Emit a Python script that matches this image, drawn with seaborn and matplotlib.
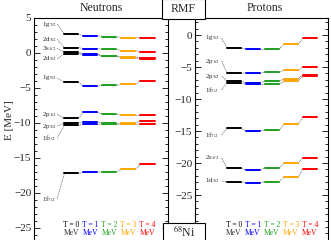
import numpy as np
import pandas as pd
import seaborn as sns
import matplotlib.pyplot as plt
from matplotlib.patches import Rectangle
from matplotlib.ticker import MultipleLocator, FixedLocator

# temperatures and their colours
T_VALUES = [0, 1, 2, 3, 4]
T_COLORS = ["black", "#0000ff", "#1fa01f", "#ffa500", "#ff0000"]

# neutron single-particle energies [MeV], one value per temperature
n_1g72 = [2.67, 2.48, 2.33, 2.19, 2.20]
n_2d32 = [0.76, 0.62, 0.52, 0.33, 0.19]
n_3s12 = [0.12, -0.15, -0.38, -0.58, -0.72]
n_2d52 = [-0.08, -0.25, -0.48, -0.68, -0.82]
n_1g92 = [-4.19, -4.71, -4.62, -4.48, -3.95]
n_2p12 = [-9.33, -8.50, -8.71, -8.86, -8.86]
n_2p32 = [-10.00, -9.80, -10.05, -10.05, -9.65]
n_1f52 = [-10.35, -10.15, -10.20, -10.20, -10.15]
n_1f72 = [-17.19, -17.05, -16.95, -16.62, -15.90]

# proton single-particle energies [MeV]
p_1g92 = [-1.98, -2.19, -2.19, -1.46, -0.52]
p_2p12 = [-5.89, -5.99, -5.83, -5.52, -4.95]
p_2p32 = [-7.19, -7.45, -7.19, -6.88, -6.20]
p_1f52 = [-7.45, -7.71, -7.71, -7.24, -6.45]
p_1f72 = [-14.60, -14.95, -14.84, -13.96, -12.76]
p_2s12 = [-20.80, -21.10, -20.73, -20.05, -19.17]
p_1d32 = [-22.90, -23.07, -22.90, -22.24, -20.94]

n_names = ["1g$_{7/2}$", "2d$_{3/2}$", "3s$_{1/2}$", "2d$_{5/2}$", "1g$_{9/2}$",
           "2p$_{1/2}$", "2p$_{3/2}$", "1f$_{5/2}$", "1f$_{7/2}$"]
n_levels = [n_1g72, n_2d32, n_3s12, n_2d52, n_1g92, n_2p12, n_2p32, n_1f52, n_1f72]
n_label_y = [4.14, 1.95, 0.65, -0.80, -3.57, -8.75, -10.45, -12.1, -20.8]

p_names = ["1g$_{9/2}$", "2p$_{1/2}$", "2p$_{3/2}$", "1f$_{5/2}$",
           "1f$_{7/2}$", "2s$_{1/2}$", "1d$_{3/2}$"]
p_levels = [p_1g92, p_2p12, p_2p32, p_1f52, p_1f72, p_2s12, p_1d32]
p_label_y = [-0.47, -4.06, -6.41, -8.59, -15.6, -19.2, -22.8]

HALF = 0.37  # half width of a level bar, in column units


def level_frame(levels):
    rows = []
    for k, lev in enumerate(levels):
        for t, e in zip(T_VALUES, lev):
            u = k * 10 + t
            rows.append({"unit": u, "T": t, "x": t - HALF, "E": e})
            rows.append({"unit": u, "T": t, "x": t + HALF, "E": e})
    return pd.DataFrame(rows)


def draw_panel(ax, levels, names, label_y, label_x, lead_x, yticks):
    df = level_frame(levels)
    sns.lineplot(data=df, x="x", y="E", hue="T", units="unit", estimator=None,
                 palette=dict(zip(T_VALUES, T_COLORS)), linewidth=1.4,
                 legend=False, sort=False, ax=ax)
    # dashed connectors between temperatures
    for lev in levels:
        for t in T_VALUES[:-1]:
            ax.plot([t + HALF, t + 1 - HALF], [lev[t], lev[t + 1]],
                    color="0.35", lw=0.5, ls=(0, (1.5, 1)), zorder=1)
    # orbital labels with leader lines
    for name, lev, ly in zip(names, levels, label_y):
        ax.text(label_x, ly, name, fontsize=5.0, ha="left", va="center",
                color="0.15")
        ax.plot([lead_x, -HALF], [ly, lev[0]], color="0.35", lw=0.5,
                ls=(0, (1.5, 1)), zorder=1)
    # temperature labels at the bottom
    tr = ax.get_xaxis_transform()
    for t, c in zip(T_VALUES, T_COLORS):
        ax.text(t, 0.088, f"T = {t}", color=c, fontsize=5.5, ha="center",
                va="center", transform=tr)
        ax.text(t, 0.055, "MeV", color=c if t else "0.2", fontsize=5.5,
                ha="center", va="center", transform=tr)
    ax.set_xticks([])
    ax.set_xlabel("")
    ax.set_ylabel("")
    ax.yaxis.set_major_locator(FixedLocator(yticks))
    ax.yaxis.set_minor_locator(MultipleLocator(1))
    ax.tick_params(axis="y", which="both", direction="in", left=True,
                   right=True, labelsize=8, pad=2, width=0.7)
    ax.tick_params(axis="y", which="major", length=4)
    ax.tick_params(axis="y", which="minor", length=2)
    for s in ax.spines.values():
        s.set_linewidth(0.8)
        s.set_color("black")


sns.set_style("ticks")
plt.rcParams["font.family"] = ["Liberation Serif", "DejaVu Serif"]
plt.rcParams["mathtext.fontset"] = "stix"

W, H = 331, 240
fig = plt.figure(figsize=(W / 100, H / 100), dpi=100)

top_px, bot_px = 18, 245
ax_n = fig.add_axes([34 / W, 1 - bot_px / H, 134 / W, (bot_px - top_px) / H])
ax_p = fig.add_axes([195 / W, 1 - bot_px / H, 133 / W, (bot_px - top_px) / H])

draw_panel(ax_n, n_levels, n_names, n_label_y, label_x=-1.55, lead_x=-0.75,
           yticks=[5, 0, -5, -10, -15, -20, -25])
ax_n.set_xlim(-1.97, 5.08)
ax_n.set_ylim(-27.43, 5)

draw_panel(ax_p, p_levels, p_names, p_label_y, label_x=-1.53, lead_x=-0.65,
           yticks=[0, -5, -10, -15, -20, -25])
ax_p.set_xlim(-2.05, 4.95)
ax_p.set_ylim(-32.8, 2.66)

fig.text(101 / W, 1 - 8 / H, "Neutrons", ha="center", va="center", fontsize=8.5)
fig.text(265 / W, 1 - 8 / H, "Protons", ha="center", va="center", fontsize=8.5)
fig.text(10 / W, 0.5, "E [MeV]", ha="center", va="center", rotation=90, fontsize=8)

# boxes in the middle column
fig.add_artist(Rectangle((162 / W, 1 - 19 / H), 43 / W, 19.5 / H,
                         transform=fig.transFigure, facecolor="white",
                         edgecolor="black", lw=0.8, zorder=5))
fig.text(183.5 / W, 1 - 9.5 / H, "RMF", ha="center", va="center", fontsize=8.5, zorder=6)
fig.add_artist(Rectangle((163 / W, 0 - 5 / H), 42 / W, 22 / H,
                         transform=fig.transFigure, facecolor="white",
                         edgecolor="black", lw=0.8, zorder=5))
fig.text(184 / W, 8 / H, "$^{68}$Ni", ha="center", va="center", fontsize=8.5, zorder=6)

fig.savefig("out.png", dpi=100)
